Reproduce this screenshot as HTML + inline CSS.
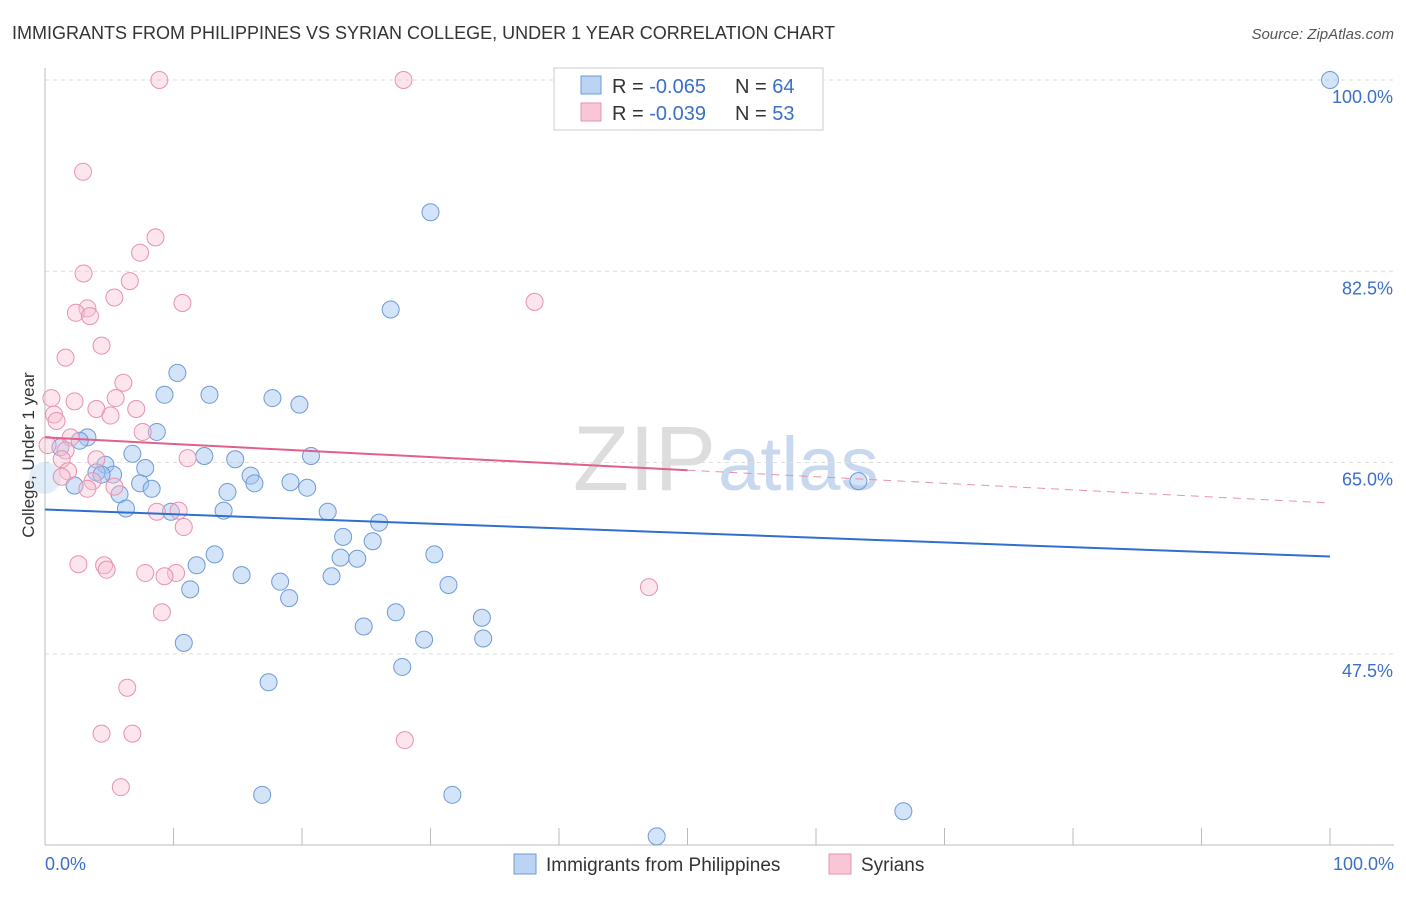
<!DOCTYPE html>
<html><head><meta charset="utf-8"><style>
body{margin:0;background:#fff;font-family:"Liberation Sans",sans-serif;}
svg text{font-family:"Liberation Sans",sans-serif;}
</style></head><body>
<svg id="chart" width="1406" height="892" xmlns="http://www.w3.org/2000/svg">
<text x="12" y="39" font-size="18" fill="#333">IMMIGRANTS FROM PHILIPPINES VS SYRIAN COLLEGE, UNDER 1 YEAR CORRELATION CHART</text>
<text x="1394" y="39" font-size="15" fill="#555" font-style="italic" text-anchor="end">Source: ZipAtlas.com</text>
<text x="716" y="490" font-size="92" fill="#ddd" text-anchor="end" font-family="Liberation Serif">ZIP</text>
<text x="718" y="490" font-size="76" fill="#c8d8ee">atlas</text>
<g id="grid"></g><g id="axes"></g><g id="marks"></g>
<text transform="translate(34,455) rotate(-90)" font-size="17" fill="#333" text-anchor="middle">College, Under 1 year</text>
<g>
<rect x="554" y="68" width="269" height="62" fill="#fff" stroke="#ccc"/>
<rect x="581" y="76" width="20" height="18" fill="#bcd4f3" stroke="#6e9ad6"/>
<rect x="581" y="103" width="20" height="18" fill="#f9c6d6" stroke="#e892ad"/>
<text x="612" y="93" font-size="20" fill="#333">R = <tspan fill="#3a6fc8">-0.065</tspan></text>
<text x="735" y="93" font-size="20" fill="#333">N = <tspan fill="#3a6fc8">64</tspan></text>
<text x="612" y="120" font-size="20" fill="#333">R = <tspan fill="#3a6fc8">-0.039</tspan></text>
<text x="735" y="120" font-size="20" fill="#333">N = <tspan fill="#3a6fc8">53</tspan></text>
</g>
<g>
<rect x="514" y="854" width="22" height="20" fill="#bcd4f3" stroke="#6e9ad6"/>
<text x="546" y="871" font-size="19" fill="#333">Immigrants from Philippines</text>
<rect x="829" y="854" width="22" height="20" fill="#f9c6d6" stroke="#e892ad"/>
<text x="861" y="871" font-size="19" fill="#333">Syrians</text>
</g>
</svg>
<script>
const yTicks=[100,82.5,65,47.5];
const xTickLabels=["0.0%","100.0%"];
const blueX=[100,30.0,26.9,10.3,9.3,12.8,17.7,19.8,8.7,3.3,2.7,1.2,6.8,12.4,20.7,14.8,7.8,4.7,4.0,5.3,16.0,4.4,7.4,16.3,19.1,20.4,8.3,14.2,2.3,5.8,6.3,13.9,9.8,22.0,26.0,23.2,25.5,13.2,30.3,23.0,24.3,11.8,15.3,22.3,18.3,31.4,11.3,19.0,27.3,34.0,24.8,29.5,34.1,10.8,27.8,17.4,63.3,16.9,31.7,47.6,66.8,0];
const blueY=[100,87.9,79.0,73.2,71.2,71.2,70.9,70.3,67.8,67.3,67.0,66.4,65.8,65.6,65.6,65.3,64.5,64.8,64.1,63.9,63.8,63.9,63.1,63.1,63.2,62.7,62.6,62.3,62.9,62.1,60.8,60.6,60.5,60.5,59.5,58.2,57.8,56.6,56.6,56.3,56.2,55.6,54.7,54.6,54.1,53.8,53.4,52.6,51.3,50.8,50.0,48.8,48.9,48.5,46.3,44.9,63.3,34.6,34.6,30.8,33.1,63.6];
const pinkX=[8.9,27.9,2.96,8.6,7.4,3.0,6.6,5.4,10.7,38.1,3.3,2.4,3.5,4.4,1.6,6.1,5.5,0.5,2.3,4.0,7.1,0.7,5.1,0.9,7.6,2.0,0.2,1.6,1.3,4.0,11.1,1.8,1.3,3.7,5.4,3.3,10.4,8.7,10.8,2.6,4.6,4.8,7.8,10.2,9.3,9.1,47.0,6.4,4.4,6.8,28.0,5.9];
const pinkY=[100,100,91.6,85.6,84.2,82.3,81.6,80.1,79.6,79.7,79.1,78.7,78.4,75.7,74.6,72.3,70.9,70.9,70.6,69.9,69.9,69.4,69.3,68.8,67.8,67.3,66.6,66.1,65.3,65.3,65.4,64.2,63.7,63.3,62.8,62.6,60.6,60.5,59.1,55.7,55.6,55.2,54.9,54.9,54.6,51.3,53.6,44.4,40.2,40.2,39.6,35.3];
const blueTrend=[60.7,56.4];
const pinkTrend=[67.3,61.3];
const X=v=>45+v*12.85, Y=v=>80+(100-v)*10.93;
const NS="http://www.w3.org/2000/svg";
function mk(tag,attrs,parent){const e=document.createElementNS(NS,tag);for(const k in attrs)e.setAttribute(k,attrs[k]);document.getElementById(parent).appendChild(e);return e;}
yTicks.forEach((t,i)=>{
 const g=mk('line',{x1:45,x2:1394,y1:Y(t),y2:Y(t),stroke:'#ddd','stroke-dasharray':'4,4'},'grid');
 
 
 const l=mk('text',{x:1393,y:Y(t)+23,'font-size':18,fill:'#3a6fc8','text-anchor':'end'},'axes');
 l.textContent=t.toFixed(1)+'%';
 
 
});
const ax=mk('line',{x1:45,x2:1394,y1:845,y2:845,stroke:'#bbb'},'axes');


const ay=mk('line',{x1:45,x2:45,y1:68,y2:845,stroke:'#bbb'},'axes');


for(let i=1;i<=10;i++){const t=mk('line',{x1:X(i*10),x2:X(i*10),y1:828,y2:845,stroke:'#bbb'},'axes');
 
 }
const xl0=mk('text',{x:45,y:870,'font-size':18,fill:'#3a6fc8'},'axes');xl0.textContent=xTickLabels[0];


const xl1=mk('text',{x:1394,y:870,'font-size':18,fill:'#3a6fc8','text-anchor':'end'},'axes');xl1.textContent=xTickLabels[1];


blueX.forEach((v,i)=>{const big=i==blueX.length-1;const c=mk('circle',{cx:X(v),cy:Y(blueY[i]),r:big?16:8.5,fill:big?'rgba(160,195,240,0.3)':'rgba(160,195,240,0.45)',stroke:big?'none':'#6e9ad6','stroke-width':1},'marks');
 
 });
pinkX.forEach((v,i)=>{const c=mk('circle',{cx:X(v),cy:Y(pinkY[i]),r:8.5,fill:'rgba(248,190,210,0.4)',stroke:'#e892ad','stroke-width':1},'marks');
 
 });
const bl=mk('line',{x1:X(0),y1:Y(blueTrend[0]),x2:X(100),y2:Y(blueTrend[1]),stroke:'#2f6fd0','stroke-width':2},'marks');


const pm=pinkTrend[0]+(pinkTrend[1]-pinkTrend[0])*0.5;
const pl=mk('line',{x1:X(0),y1:Y(pinkTrend[0]),x2:X(50),y2:Y(pm),stroke:'#e0608a','stroke-width':2},'marks');


const pd=mk('line',{x1:X(50),y1:Y(pm),x2:X(100),y2:Y(pinkTrend[1]),stroke:'#e892ad','stroke-width':1,'stroke-dasharray':'8,6'},'marks');


</script>
</body></html>
